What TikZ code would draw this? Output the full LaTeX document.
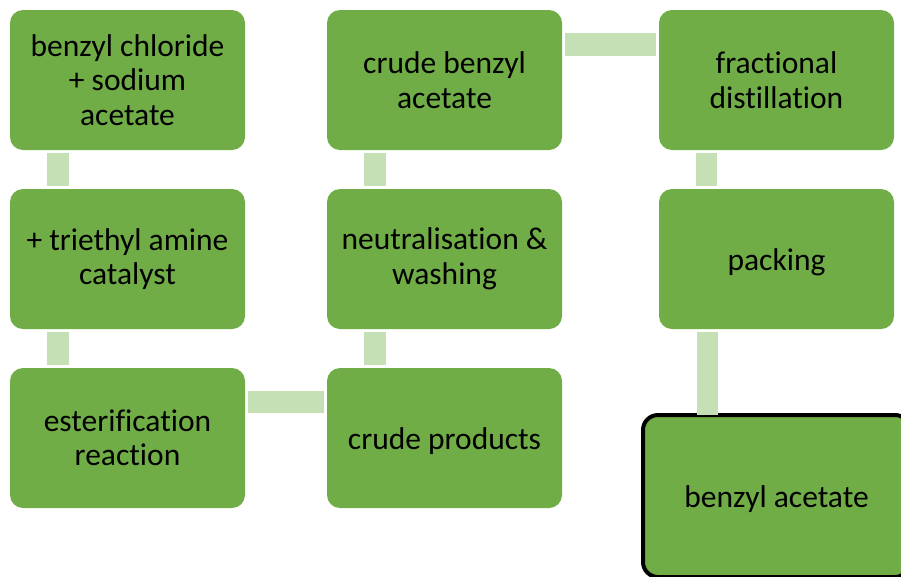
\documentclass[tikz,border=0pt]{standalone}
\usepackage{fontspec}
\setmainfont[Ligatures=NoCommon]{Carlito}
\definecolor{boxgreen}{HTML}{70AD47}
\definecolor{bargreen}{HTML}{C5E0B4}
\newcommand{\toppad}{\rule{0pt}{28pt}}
\begin{document}
\begin{tikzpicture}[x=1pt,y=-1pt,
  stepbox/.style={fill=boxgreen, rounded corners=13pt, minimum width=235pt, minimum height=140pt,
    align=flush center, text width=230pt, font=\fontsize{31.5}{34.5}\selectfont, inner sep=0pt, draw=none},
  onelinebox/.style={stepbox, execute at begin node=\toppad},
  finalbox/.style={onelinebox, draw=black, line width=4pt, rounded corners=15pt, minimum width=267pt, minimum height=162pt},
  bar/.style={draw=none, fill=bargreen}]
\clip (0,0) rectangle (901,576);
\useasboundingbox (0,0) rectangle (901,576);
\node[stepbox] (a) at (127.5,80) {benzyl chloride\\+ sodium\\acetate};
\node[stepbox] (b) at (127.5,259) {+ triethyl amine\\catalyst};
\node[stepbox] (c) at (127.5,438) {esterification\\reaction};
\node[onelinebox] (d) at (444.5,438) {crude products};
\node[stepbox] (e) at (444.5,259) {neutralisation \&\\washing};
\node[stepbox] (f) at (444.5,80) {crude benzyl\\acetate};
\node[stepbox] (g) at (776.5,80) {fractional\\distillation};
\node[onelinebox] (h) at (776.5,259) {packing};
\node[finalbox] (i) at (776.5,496) {benzyl acetate};
% connectors
\fill[bar] ([xshift=-81pt,yshift=-3pt]a.south) rectangle ([xshift=-59pt,yshift=3pt]b.north);
\fill[bar] ([xshift=-81pt,yshift=-3pt]b.south) rectangle ([xshift=-59pt,yshift=3pt]c.north);
\fill[bar] ([xshift=3pt,yshift=47pt]c.east) rectangle ([xshift=-3pt,yshift=25pt]d.west);
\fill[bar] ([xshift=-81pt,yshift=3pt]d.north) rectangle ([xshift=-59pt,yshift=-3pt]e.south);
\fill[bar] ([xshift=-81pt,yshift=3pt]e.north) rectangle ([xshift=-59pt,yshift=-3pt]f.south);
\fill[bar] ([xshift=3pt,yshift=47pt]f.east) rectangle ([xshift=-3pt,yshift=24pt]g.west);
\fill[bar] ([xshift=-81pt,yshift=-3pt]g.south) rectangle ([xshift=-60pt,yshift=3pt]h.north);
\fill[bar] ([xshift=-80pt,yshift=-3pt]h.south) rectangle ([xshift=-59pt,yshift=-2pt]i.north -| h.south);
\end{tikzpicture}
\end{document}
